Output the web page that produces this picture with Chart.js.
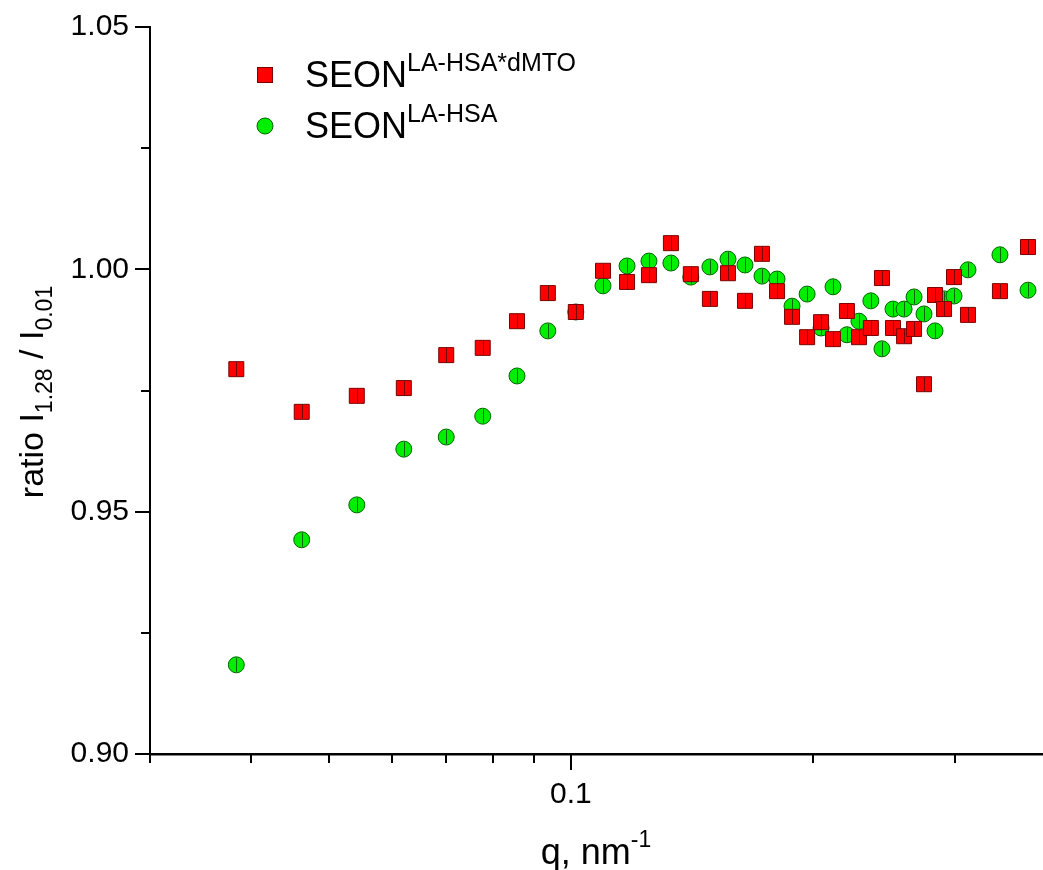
<!DOCTYPE html>
<html>
<head>
<meta charset="utf-8">
<title>ratio I1.28 / I0.01 vs q</title>
<script src="https://cdn.jsdelivr.net/npm/chart.js@4.4.1/dist/chart.umd.min.js"></script>
<style>
    html, body { margin: 0; padding: 0; background: #fff; }
    #chart { display: block; }
</style>
</head>
<body>
<canvas id="chart" width="1043" height="870"></canvas>
<script>
// q, nm-1 (shared by both series)
var qValues = [0.0384, 0.0463, 0.0542, 0.0620, 0.0700, 0.0777, 0.0857, 0.0936, 0.1014, 0.1096,
               0.1174, 0.1250, 0.1331, 0.1409, 0.1488, 0.1567, 0.1645, 0.1727, 0.1803, 0.1882,
               0.1965, 0.2045, 0.2116, 0.2202, 0.2279, 0.2358, 0.2434, 0.2512, 0.2593, 0.2668,
               0.2745, 0.2833, 0.2907, 0.2991, 0.3113, 0.3411, 0.3696];
var ratioDmto = [0.9794, 0.9706, 0.9739, 0.9755, 0.9823, 0.9838, 0.9893, 0.9951, 0.9912, 0.9997,
                 0.9974, 0.9988, 1.0054, 0.9990, 0.9939, 0.9992, 0.9935, 1.0032, 0.9955, 0.9902,
                 0.9860, 0.9891, 0.9856, 0.9914, 0.9860, 0.9879, 0.9982, 0.9879, 0.9862, 0.9877,
                 0.9763, 0.9947, 0.9918, 0.9984, 0.9906, 0.9955, 1.0046];
var ratioHsa = [0.9184, 0.9442, 0.9514, 0.9629, 0.9654, 0.9697, 0.9780, 0.9873, 0.9912, 0.9966,
                1.0007, 1.0017, 1.0013, 0.9984, 1.0005, 1.0021, 1.0009, 0.9986, 0.9980, 0.9924,
                0.9949, 0.9879, 0.9964, 0.9865, 0.9893, 0.9935, 0.9836, 0.9918, 0.9918, 0.9943,
                0.9908, 0.9873, 0.9939, 0.9945, 0.9999, 1.0030, 0.9957];
var seriesNames = ['SEON', 'SEON'];
var seriesSup = ['LA-HSA*dMTO', 'LA-HSA'];
var xMajorTicks = [0.1];
var xMinorTicks = [0.03, 0.04, 0.05, 0.06, 0.07, 0.08, 0.09, 0.2, 0.3];
var yMajorTicks = [0.90, 0.95, 1.00, 1.05];
var yMinorTicks = [0.925, 0.975, 1.025];

var FONT = '"Liberation Sans", Arial, Helvetica, sans-serif';
var colors = {
    red: '#ff0000', redEdge: '#7a0000',
    green: '#00ee00', greenEdge: '#006400'
};

function toPoints(ys) {
    return qValues.map(function (q, i) { return { x: q, y: ys[i] }; });
}

function drawParts(ctx, parts, x, y) {
    // parts: [text, size, dy]; x is the left start, y the baseline
    parts.forEach(function (p) {
        ctx.font = p[1] + 'px ' + FONT;
        ctx.fillText(p[0], x, y + p[2]);
        x += ctx.measureText(p[0]).width;
    });
}
function partsWidth(ctx, parts) {
    return parts.reduce(function (w, p) {
        ctx.font = p[1] + 'px ' + FONT;
        return w + ctx.measureText(p[0]).width;
    }, 0);
}

function marker(ctx, i, x, y) {
    ctx.lineWidth = 1;
    if (i === 0) {
        ctx.fillStyle = colors.red; ctx.strokeStyle = colors.redEdge;
        ctx.fillRect(x - 7.5, y - 7.5, 15, 15);
        ctx.strokeRect(x - 7.5, y - 7.5, 15, 15);
    } else {
        ctx.fillStyle = colors.green; ctx.strokeStyle = colors.greenEdge;
        ctx.beginPath(); ctx.arc(x, y, 8, 0, Math.PI * 2); ctx.fill(); ctx.stroke();
    }
}

// small error bars through each marker
var errBars = {
    id: 'errBars',
    afterDatasetDraw: function (chart, args) {
        var ctx = chart.ctx;
        ctx.save();
        ctx.strokeStyle = args.index === 0 ? colors.redEdge : colors.greenEdge;
        ctx.lineWidth = 1;
        ctx.beginPath();
        args.meta.data.forEach(function (pt) {
            ctx.moveTo(Math.round(pt.x) + 0.5, pt.y - 7);
            ctx.lineTo(Math.round(pt.x) + 0.5, pt.y + 7);
        });
        ctx.stroke();
        ctx.restore();
    }
};

var decor = {
    id: 'decor',
    afterDraw: function (chart) {
        var ctx = chart.ctx, xs = chart.scales.x, ys = chart.scales.y, a = chart.chartArea;
        ctx.save();

        // tick marks, outward
        ctx.strokeStyle = '#000';
        ctx.lineWidth = 2;
        ctx.beginPath();
        xMajorTicks.forEach(function (v) { var p = Math.round(xs.getPixelForValue(v)); ctx.moveTo(p, a.bottom); ctx.lineTo(p, a.bottom + 16); });
        xMinorTicks.forEach(function (v) { var p = Math.round(xs.getPixelForValue(v)); ctx.moveTo(p, a.bottom); ctx.lineTo(p, a.bottom + 9); });
        yMajorTicks.forEach(function (v) { var p = Math.round(ys.getPixelForValue(v)); ctx.moveTo(a.left, p); ctx.lineTo(a.left - 15, p); });
        yMinorTicks.forEach(function (v) { var p = Math.round(ys.getPixelForValue(v)); ctx.moveTo(a.left, p); ctx.lineTo(a.left - 9, p); });
        ctx.stroke();

        ctx.fillStyle = '#000';
        ctx.textBaseline = 'alphabetic';
        ctx.textAlign = 'left';

        // x title
        var xt = [['q, nm', 36, 0], ['-1', 23, -17]];
        drawParts(ctx, xt, 596 - partsWidth(ctx, xt) / 2, 864);

        // y title, rotated
        var yt = [['ratio I', 34, 0], ['1.28', 23, 9], [' / I', 34, 0], ['0.01', 23, 9]];
        ctx.translate(43, 392);
        ctx.rotate(-Math.PI / 2);
        ctx.fillStyle = '#000';
        drawParts(ctx, yt, -partsWidth(ctx, yt) / 2, 0);
        ctx.setTransform(1, 0, 0, 1, 0, 0);

        // legend
        [75, 126].forEach(function (ly, i) {
            marker(ctx, i, 265, ly);
            ctx.fillStyle = '#000';
            drawParts(ctx, [[seriesNames[i], 36, 0], [seriesSup[i], 25, -16]], 305, ly + 12);
        });
        ctx.restore();
    }
};

var ctx = document.getElementById('chart').getContext('2d');
window.ratioChart = new Chart(ctx, {
    type: 'scatter',
    data: {
        datasets: [{
            label: seriesNames[0] + ' ' + seriesSup[0],
            data: toPoints(ratioDmto),
            pointStyle: 'rect',
            pointRadius: 10.6,
            backgroundColor: colors.red,
            borderColor: colors.redEdge,
            borderWidth: 1
        }, {
            label: seriesNames[1] + ' ' + seriesSup[1],
            data: toPoints(ratioHsa),
            pointStyle: 'circle',
            pointRadius: 8,
            backgroundColor: colors.green,
            borderColor: colors.greenEdge,
            borderWidth: 1
        }]
    },
    options: {
        responsive: false,
        animation: false,
        events: [],
        layout: { autoPadding: false, padding: { top: 27, right: 0, left: 0, bottom: 0 } },
        plugins: {
            legend: { display: false },
            tooltip: { enabled: false }
        },
        scales: {
            x: {
                type: 'logarithmic',
                min: 0.03,
                max: 0.3858,
                afterBuildTicks: function (s) {
                    s.ticks = xMinorTicks.concat(xMajorTicks).sort(function (a, b) { return a - b; })
                        .map(function (v) { return { value: v }; });
                },
                afterFit: function (s) { s.height = 116; s.paddingLeft = 0; s.paddingRight = 0; },
                grid: { display: true, drawOnChartArea: false, drawTicks: false },
                border: { display: true, color: '#000', width: 2.5 },
                ticks: {
                    autoSkip: false,
                    maxRotation: 0,
                    padding: 23,
                    color: '#000',
                    font: { family: FONT, size: 30 },
                    callback: function (v) {
                        return xMajorTicks.some(function (m) { return Math.abs(m - v) < 1e-9; }) ? String(v) : '';
                    }
                }
            },
            y: {
                min: 0.90,
                max: 1.05,
                afterBuildTicks: function (s) {
                    s.ticks = yMajorTicks.map(function (v) { return { value: v }; });
                },
                afterFit: function (s) { s.width = 150; s.paddingTop = 0; s.paddingBottom = 0; },
                grid: { display: true, drawOnChartArea: false, drawTicks: false },
                border: { display: true, color: '#000', width: 2 },
                ticks: {
                    padding: 21,
                    color: '#000',
                    font: { family: FONT, size: 30 },
                    callback: function (v) { return Number(v).toFixed(2); }
                }
            }
        }
    },
    plugins: [errBars, decor]
});
</script>
</body>
</html>
